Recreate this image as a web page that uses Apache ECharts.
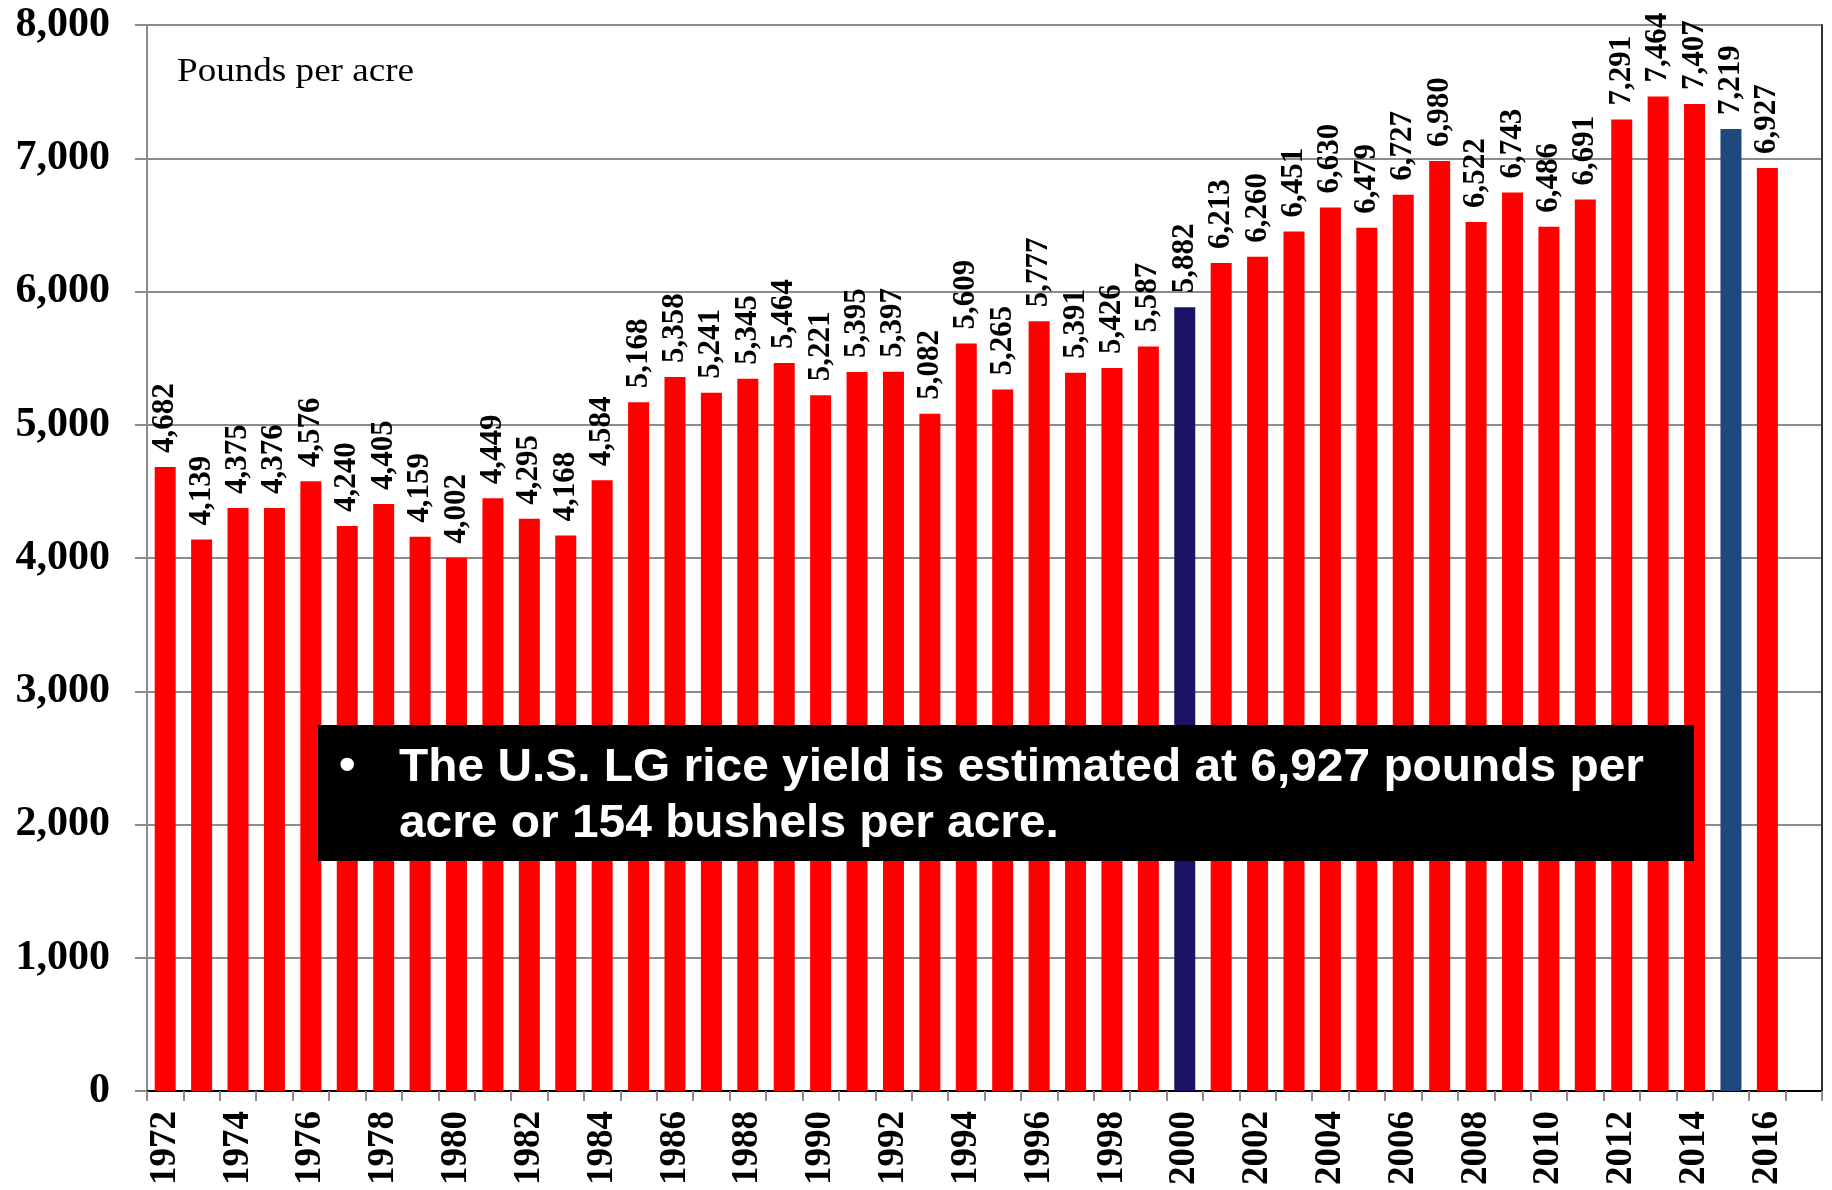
<!DOCTYPE html>
<html>
<head>
<meta charset="utf-8">
<script src="https://cdn.jsdelivr.net/npm/echarts@6/dist/echarts.min.js"></script>
<style>
html,body{margin:0;padding:0;background:#fff;}
#chart{width:1832px;height:1190px;}
</style>
</head>
<body>
<div id="chart"></div>
<script>
const years = ['1972','1973','1974','1975','1976','1977','1978','1979','1980','1981',
  '1982','1983','1984','1985','1986','1987','1988','1989','1990','1991',
  '1992','1993','1994','1995','1996','1997','1998','1999','2000','2001',
  '2002','2003','2004','2005','2006','2007','2008','2009','2010','2011',
  '2012','2013','2014','2015','2016','2017'];
const yieldLbs = [4682,4139,4375,4376,4576,4240,4405,4159,4002,4449,
  4295,4168,4584,5168,5358,5241,5345,5464,5221,5395,
  5397,5082,5609,5265,5777,5391,5426,5587,5882,6213,
  6260,6451,6630,6479,6727,6980,6522,6743,6486,6691,
  7291,7464,7407,7219,6927,null];
const yTicks = [0,1000,2000,3000,4000,5000,6000,7000,8000];
const unitLabel = 'Pounds per acre';
const noteLine1 = 'The U.S. LG rice yield is estimated at 6,927 pounds per';
const noteLine2 = 'acre or 154 bushels per acre.';

const specialColors = {'2000':'#1B1464','2015':'#1F497D'};
const seriesData = yieldLbs.map((v,i)=>{
  const c = specialColors[years[i]];
  return c ? {value:v,itemStyle:{color:c}} : v;
});

const serif = '"Liberation Serif", "Times New Roman", serif';
// measure text for horizontal scaling of annotations
const cv = document.createElement('canvas').getContext('2d');
const noteFont = 'bold 47px "Liberation Sans", Arial, sans-serif';
cv.font = noteFont;
const noteScale = 1245 / cv.measureText(noteLine1).width;
const unitFont = '33px ' + serif;
cv.font = unitFont;
const unitScale = 237 / cv.measureText(unitLabel).width;

const chart = echarts.init(document.getElementById('chart'), null, {renderer:'canvas'});
const option = {
  animation:false,
  backgroundColor:'#fff',
  grid:{left:147,right:10,top:25,bottom:99,containLabel:false},
  xAxis:[{
    type:'category',data:years,position:'bottom',
    axisLine:{show:true,lineStyle:{color:'#8c8c8c',width:2}},
    axisTick:{show:true,interval:0,length:10,lineStyle:{color:'#8c8c8c',width:2}},
    axisLabel:{interval:1,rotate:90,margin:20,color:'#000',fontFamily:serif,fontWeight:'bold',fontSize:37},
    splitLine:{show:false}
  },{
    type:'category',data:years,position:'top',
    axisLine:{show:true,lineStyle:{color:'#000',width:2}},
    axisTick:{show:false},axisLabel:{show:false},splitLine:{show:false}
  }],
  yAxis:[{
    type:'value',min:yTicks[0],max:yTicks[yTicks.length-1],interval:1000,
    axisLine:{show:true,lineStyle:{color:'#8c8c8c',width:2}},
    axisTick:{show:true,length:12,lineStyle:{color:'#8c8c8c',width:2}},
    axisLabel:{margin:37,color:'#000',fontFamily:serif,fontWeight:'bold',fontSize:42,
      formatter:v=>v.toLocaleString('en-US')},
    splitLine:{show:true,lineStyle:{color:'#8c8c8c',width:2}}
  },{
    type:'value',min:yTicks[0],max:yTicks[yTicks.length-1],interval:1000,position:'right',
    axisLine:{show:true,lineStyle:{color:'#333',width:2}},
    axisTick:{show:false},axisLabel:{show:false},splitLine:{show:false}
  }],
  series:[{
    type:'bar',xAxisIndex:0,yAxisIndex:0,
    data:seriesData,
    barWidth:21,
    itemStyle:{color:'#FF0000'},
    label:{show:true,position:'top',rotate:90,align:'left',verticalAlign:'middle',distance:14,
      color:'#000',fontFamily:serif,fontWeight:'bold',fontSize:31,
      formatter:p=>p.value==null?'':Number(p.value).toLocaleString('en-US')}
  }],
  graphic:[
    {type:'text',x:177,y:72,scaleX:unitScale,originX:0,style:{text:unitLabel,fill:'#000',font:unitFont,verticalAlign:'middle'}},
    {type:'rect',shape:{x:318,y:725,width:1376,height:136},style:{fill:'#000'},z:100},
    {type:'text',x:339,y:767,style:{text:'\u2022',fill:'#fff',font:noteFont,verticalAlign:'middle'},z:101},
    {type:'text',x:399,y:768,scaleX:noteScale,originX:0,style:{text:noteLine1,fill:'#fff',font:noteFont,verticalAlign:'middle'},z:101},
    {type:'text',x:399,y:824,scaleX:noteScale,originX:0,style:{text:noteLine2,fill:'#fff',font:noteFont,verticalAlign:'middle'},z:101}
  ]
};
chart.setOption(option);
</script>
</body>
</html>
